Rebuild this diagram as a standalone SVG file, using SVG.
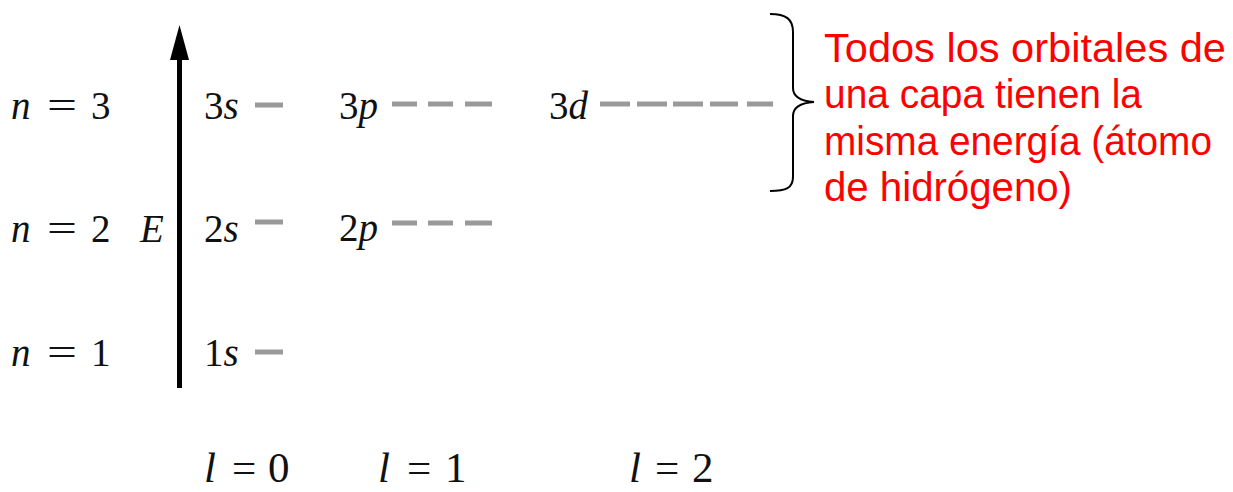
<svg xmlns="http://www.w3.org/2000/svg" width="1233" height="492" viewBox="0 0 1233 492">
<style>
.m{font-family:"Liberation Serif","Times New Roman",serif;font-size:39px;fill:#111}
.l{font-family:"Liberation Serif","Times New Roman",serif;font-size:43px;fill:#111}
.i{font-style:italic}
.lvl{stroke:#999;stroke-width:5;fill:none}
.note{font-family:"Liberation Sans",Arial,sans-serif;font-size:40px;fill:#ff0000}
</style>
<rect width="1233" height="492" fill="#fff"/>
<g id="axis">
<line x1="179.5" y1="388" x2="179.5" y2="56" stroke="#000" stroke-width="5"/>
<polygon points="179.5,25 170,60 189,60" fill="#000"/>
<text class="m i" x="140" y="242">E</text>
</g>
<g id="n-labels">
<text class="m i" x="11" y="119">n</text>
<text class="m" x="47" y="119" textLength="30" lengthAdjust="spacingAndGlyphs">=</text>
<text class="m" x="91" y="119">3</text>
<text class="m i" x="11" y="242">n</text>
<text class="m" x="47" y="242" textLength="30" lengthAdjust="spacingAndGlyphs">=</text>
<text class="m" x="91" y="242">2</text>
<text class="m i" x="11" y="366">n</text>
<text class="m" x="47" y="366" textLength="30" lengthAdjust="spacingAndGlyphs">=</text>
<text class="m" x="91" y="366">1</text>
</g>
<g id="orbitals-s">
<text class="m" x="204" y="119">3<tspan class="i">s</tspan></text>
<text class="m" x="204" y="242">2<tspan class="i">s</tspan></text>
<text class="m" x="204" y="366">1<tspan class="i">s</tspan></text>
</g>
<g id="orbitals-p">
<text class="m" x="339" y="119">3<tspan class="i">p</tspan></text>
<text class="m" x="339" y="241">2<tspan class="i">p</tspan></text>
</g>
<g id="orbitals-d">
<text class="m" x="549" y="119">3<tspan class="i">d</tspan></text>
</g>
<g id="levels">
<line class="lvl" x1="255" y1="105" x2="283" y2="105"/>
<line class="lvl" x1="255" y1="222" x2="283" y2="222"/>
<line class="lvl" x1="255" y1="352" x2="283" y2="352"/>
<line class="lvl" x1="392" y1="104" x2="417" y2="104"/>
<line class="lvl" x1="428" y1="104" x2="453" y2="104"/>
<line class="lvl" x1="465" y1="104" x2="492" y2="104"/>
<line class="lvl" x1="392" y1="223" x2="417" y2="223"/>
<line class="lvl" x1="428" y1="223" x2="453" y2="223"/>
<line class="lvl" x1="465" y1="223" x2="492" y2="223"/>
<line class="lvl" x1="600" y1="104" x2="630" y2="104"/>
<line class="lvl" x1="637" y1="104" x2="667" y2="104"/>
<line class="lvl" x1="673" y1="104" x2="703" y2="104"/>
<line class="lvl" x1="710" y1="104" x2="738" y2="104"/>
<line class="lvl" x1="747" y1="104" x2="773" y2="104"/>
</g>
<g id="l-labels">
<text class="l i" x="204" y="482">l</text>
<text class="l" x="232" y="482">=</text>
<text class="l" x="268" y="482">0</text>
<text class="l i" x="378" y="482">l</text>
<text class="l" x="407" y="482">=</text>
<text class="l" x="445" y="482">1</text>
<text class="l i" x="629" y="482">l</text>
<text class="l" x="655" y="482">=</text>
<text class="l" x="692" y="482">2</text>
</g>
<g id="connectors">
<path d="M770,14 C786,14 793,19 793,32 L793,88 C793,97 800,101 814,102 C800,103 793,107 793,116 L793,177 C793,188 786,191 770,191" fill="none" stroke="#000" stroke-width="2"/>
</g>
<g id="note">
<text class="note" x="824" y="62" textLength="402" lengthAdjust="spacingAndGlyphs">Todos los orbitales de</text>
<text class="note" x="824" y="108" textLength="318" lengthAdjust="spacingAndGlyphs">una capa tienen la</text>
<text class="note" x="824" y="155" textLength="388" lengthAdjust="spacingAndGlyphs">misma energía (átomo</text>
<text class="note" x="824" y="201" textLength="248" lengthAdjust="spacingAndGlyphs">de hidrógeno)</text>
</g>
</svg>
